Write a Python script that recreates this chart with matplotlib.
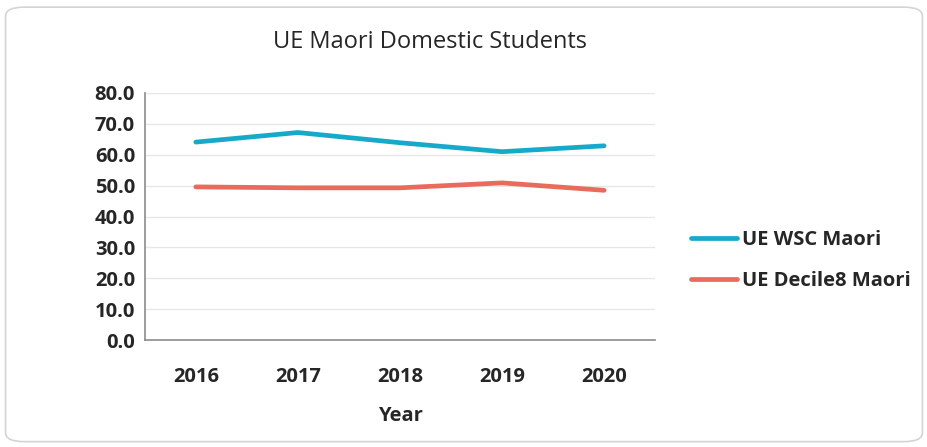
import matplotlib
matplotlib.use("Agg")
import matplotlib.pyplot as plt
from matplotlib.patches import FancyBboxPatch

years = ["2016", "2017", "2018", "2019", "2020"]
wsc_maori = [64.1, 67.2, 63.9, 61.0, 62.9]
decile8_maori = [49.6, 49.3, 49.3, 50.9, 48.5]
y_ticks = [0, 10, 20, 30, 40, 50, 60, 70, 80]

plt.rcParams["font.family"] = ["Open Sans", "DejaVu Sans"]

fig = plt.figure(figsize=(9.28, 4.47), dpi=100)
fig.patch.set_facecolor("white")

# rounded chart frame
frame = FancyBboxPatch((0.006, 0.012), 0.988, 0.972,
                       boxstyle="round,pad=0,rounding_size=0.02",
                       transform=fig.transFigure, facecolor="none",
                       edgecolor="#d4d4d4", linewidth=1.2, zorder=-1)
fig.patches.append(frame)

ax = fig.add_axes([0.156, 0.239, 0.550, 0.553])
ax.set_facecolor("none")

x = range(len(years))
ax.plot(x, wsc_maori, color="#17a9c9", linewidth=3.4,
        solid_capstyle="round", label="UE WSC Maori")
ax.plot(x, decile8_maori, color="#ea6a5b", linewidth=3.4,
        solid_capstyle="round", label="UE Decile8 Maori")

ax.set_xlim(-0.5, len(years) - 0.5)
ax.set_ylim(0, 80)
ax.set_yticks(y_ticks)
ax.set_yticklabels([f"{v:.1f}" for v in y_ticks])
ax.set_xticks(list(x))
ax.set_xticklabels(years)

for v in y_ticks[1:]:
    ax.axhline(v, color="#e6e6e6", linewidth=0.9, zorder=0)

for side in ["top", "right"]:
    ax.spines[side].set_visible(False)
for side in ["left", "bottom"]:
    ax.spines[side].set_color("#8c8c8c")
    ax.spines[side].set_linewidth(1.2)

ax.tick_params(axis="both", length=0, labelsize=14.5, colors="#262626")
ax.tick_params(axis="x", pad=19)
ax.tick_params(axis="y", pad=7)
for lbl in ax.get_xticklabels() + ax.get_yticklabels():
    lbl.set_fontweight("bold")

ax.set_xlabel("Year", fontsize=14.5, fontweight="bold", color="#262626",
              labelpad=14)

fig.text(0.463, 0.905, "UE Maori Domestic Students", ha="center", va="center",
         fontsize=17, color="#262626")

leg = ax.legend(loc="center left", bbox_to_anchor=(1.035, 0.322), frameon=False,
                fontsize=14.5, handlelength=2.3, handletextpad=0.2,
                labelspacing=1.05)
for t in leg.get_texts():
    t.set_fontweight("bold")
    t.set_color("#262626")

fig.savefig("out.png", dpi=100)
